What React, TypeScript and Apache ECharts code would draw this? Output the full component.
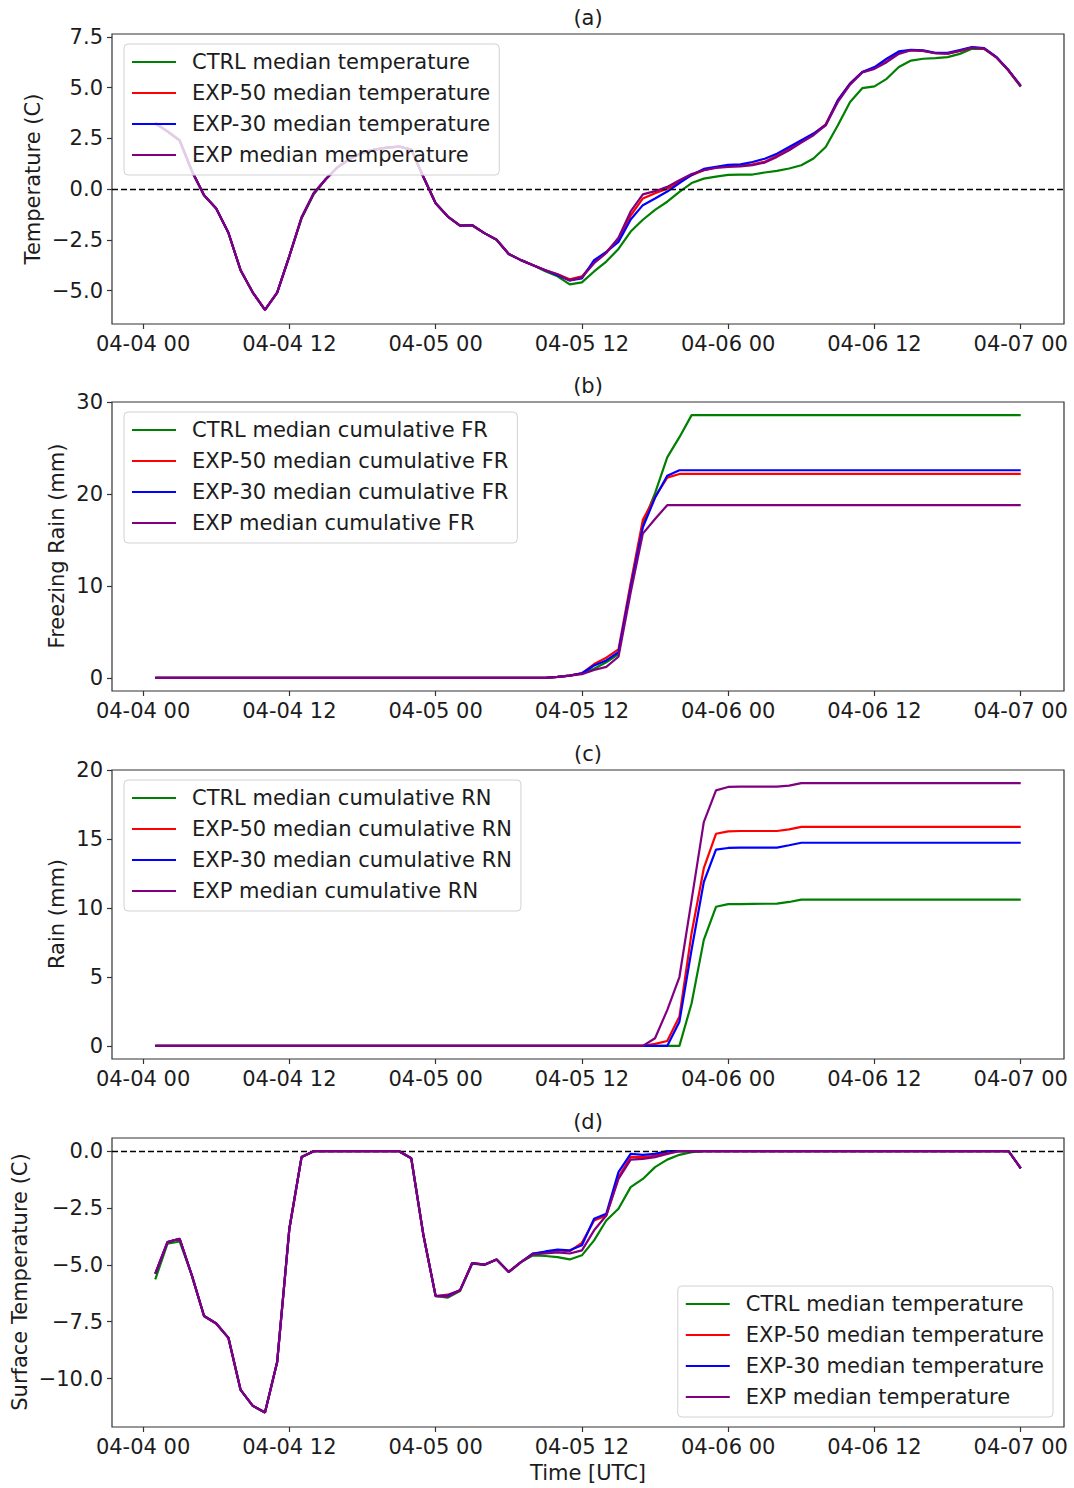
import React, { useEffect, useRef } from 'react';
import * as echarts from 'echarts';

// Hourly forecast steps (hours after 04-04 00 UTC)
const hours = Array.from({ length: 72 }, (_, i) => i + 1);

const xTickHours = [0, 12, 24, 36, 48, 60, 72];
const xTickLabels = ['04-04 00', '04-04 12', '04-05 00', '04-05 12', '04-06 00', '04-06 12', '04-07 00'];

// (a) 2 m temperature (C)
const tCtrl = [
  3.25, 2.85, 2.4, 0.9, -0.3, -0.95, -2.15, -4.0, -5.1, -5.95,
  -5.1, -3.3, -1.45, -0.25, 0.5, 1.1, 1.5, 1.8, 1.95, 2.05,
  2.1, 1.95, 0.6, -0.7, -1.35, -1.8, -1.78, -2.17, -2.5, -3.2,
  -3.5, -3.75, -4.05, -4.3, -4.7, -4.6, -4.06, -3.57, -2.95, -2.09,
  -1.51, -1.02, -0.62, -0.13, 0.3, 0.52, 0.62, 0.7, 0.72, 0.72,
  0.82, 0.9, 1.02, 1.18, 1.51, 2.08, 3.15, 4.3, 4.98, 5.07,
  5.44, 6.02, 6.34, 6.43, 6.46, 6.51, 6.67, 6.92, 6.92, 6.5,
  5.85, 5.05,
];
const tExp50 = [
  3.25, 2.85, 2.4, 0.9, -0.3, -0.95, -2.15, -4.0, -5.1, -5.95,
  -5.1, -3.3, -1.4, -0.2, 0.5, 1.1, 1.5, 1.8, 1.95, 2.05,
  2.1, 1.95, 0.6, -0.7, -1.35, -1.8, -1.78, -2.17, -2.5, -3.2,
  -3.5, -3.75, -4.0, -4.2, -4.45, -4.3, -3.6, -3.1, -2.45, -1.3,
  -0.46, -0.2, 0.02, 0.35, 0.68, 0.93, 1.08, 1.15, 1.17, 1.22,
  1.35, 1.65, 1.98, 2.35, 2.72, 3.2, 4.4, 5.22, 5.77, 5.97,
  6.3, 6.72, 6.85, 6.82, 6.7, 6.68, 6.82, 6.98, 6.93, 6.5,
  5.85, 5.08,
];
const tExp30 = [
  3.25, 2.85, 2.4, 0.9, -0.3, -0.95, -2.15, -4.0, -5.1, -5.95,
  -5.1, -3.3, -1.4, -0.2, 0.5, 1.1, 1.5, 1.8, 1.95, 2.05,
  2.1, 1.95, 0.6, -0.7, -1.35, -1.8, -1.78, -2.17, -2.5, -3.2,
  -3.5, -3.75, -4.0, -4.25, -4.5, -4.4, -3.5, -3.1, -2.6, -1.5,
  -0.79, -0.46, -0.12, 0.3, 0.7, 1.0, 1.1, 1.2, 1.22, 1.34,
  1.5, 1.75, 2.08, 2.41, 2.74, 3.15, 4.38, 5.2, 5.77, 6.02,
  6.43, 6.79, 6.87, 6.84, 6.72, 6.72, 6.86, 7.0, 6.95, 6.52,
  5.87, 5.1,
];
const tExp = [
  3.25, 2.85, 2.4, 0.9, -0.3, -0.95, -2.15, -4.0, -5.1, -5.95,
  -5.1, -3.3, -1.4, -0.2, 0.5, 1.1, 1.5, 1.8, 1.95, 2.05,
  2.1, 1.95, 0.6, -0.7, -1.35, -1.8, -1.78, -2.17, -2.5, -3.2,
  -3.5, -3.75, -4.0, -4.2, -4.5, -4.35, -3.65, -3.15, -2.4, -1.1,
  -0.26, -0.1, 0.11, 0.44, 0.75, 0.93, 1.05, 1.1, 1.12, 1.18,
  1.31, 1.59, 1.92, 2.3, 2.66, 3.15, 4.3, 5.15, 5.75, 5.93,
  6.26, 6.67, 6.85, 6.82, 6.7, 6.68, 6.82, 6.98, 6.93, 6.5,
  5.85, 5.08,
];

// (b) cumulative freezing rain (mm)
const frCtrl = [
  0, 0, 0, 0, 0, 0, 0, 0, 0, 0,
  0, 0, 0, 0, 0, 0, 0, 0, 0, 0,
  0, 0, 0, 0, 0, 0, 0, 0, 0, 0,
  0, 0, 0, 0.1, 0.25, 0.5, 1.0, 1.7, 2.6, 10.0,
  16.8, 20.1, 24.0, 26.2, 28.6, 28.6, 28.6, 28.6, 28.6, 28.6,
  28.6, 28.6, 28.6, 28.6, 28.6, 28.6, 28.6, 28.6, 28.6, 28.6,
  28.6, 28.6, 28.6, 28.6, 28.6, 28.6, 28.6, 28.6, 28.6, 28.6,
  28.6, 28.6,
];
const frExp50 = [
  0, 0, 0, 0, 0, 0, 0, 0, 0, 0,
  0, 0, 0, 0, 0, 0, 0, 0, 0, 0,
  0, 0, 0, 0, 0, 0, 0, 0, 0, 0,
  0, 0, 0, 0.1, 0.25, 0.5, 1.5, 2.2, 3.1, 10.3,
  17.2, 19.7, 21.8, 22.2, 22.2, 22.2, 22.2, 22.2, 22.2, 22.2,
  22.2, 22.2, 22.2, 22.2, 22.2, 22.2, 22.2, 22.2, 22.2, 22.2,
  22.2, 22.2, 22.2, 22.2, 22.2, 22.2, 22.2, 22.2, 22.2, 22.2,
  22.2, 22.2,
];
const frExp30 = [
  0, 0, 0, 0, 0, 0, 0, 0, 0, 0,
  0, 0, 0, 0, 0, 0, 0, 0, 0, 0,
  0, 0, 0, 0, 0, 0, 0, 0, 0, 0,
  0, 0, 0, 0.1, 0.25, 0.5, 1.35, 1.9, 2.8, 9.8,
  16.4, 19.6, 22.0, 22.6, 22.6, 22.6, 22.6, 22.6, 22.6, 22.6,
  22.6, 22.6, 22.6, 22.6, 22.6, 22.6, 22.6, 22.6, 22.6, 22.6,
  22.6, 22.6, 22.6, 22.6, 22.6, 22.6, 22.6, 22.6, 22.6, 22.6,
  22.6, 22.6,
];
const frExp = [
  0, 0, 0, 0, 0, 0, 0, 0, 0, 0,
  0, 0, 0, 0, 0, 0, 0, 0, 0, 0,
  0, 0, 0, 0, 0, 0, 0, 0, 0, 0,
  0, 0, 0, 0.1, 0.25, 0.4, 0.85, 1.2, 2.3, 9.3,
  15.7, 17.3, 18.8, 18.8, 18.8, 18.8, 18.8, 18.8, 18.8, 18.8,
  18.8, 18.8, 18.8, 18.8, 18.8, 18.8, 18.8, 18.8, 18.8, 18.8,
  18.8, 18.8, 18.8, 18.8, 18.8, 18.8, 18.8, 18.8, 18.8, 18.8,
  18.8, 18.8,
];

// (c) cumulative rain (mm)
const rnCtrl = [
  0, 0, 0, 0, 0, 0, 0, 0, 0, 0,
  0, 0, 0, 0, 0, 0, 0, 0, 0, 0,
  0, 0, 0, 0, 0, 0, 0, 0, 0, 0,
  0, 0, 0, 0, 0, 0, 0, 0, 0, 0,
  0, 0, 0, 0, 3.1, 7.7, 10.1, 10.29, 10.3, 10.31,
  10.32, 10.33, 10.45, 10.62, 10.62, 10.62, 10.62, 10.62, 10.62, 10.62,
  10.62, 10.62, 10.62, 10.62, 10.62, 10.62, 10.62, 10.62, 10.62, 10.62,
  10.62, 10.62,
];
const rnExp50 = [
  0, 0, 0, 0, 0, 0, 0, 0, 0, 0,
  0, 0, 0, 0, 0, 0, 0, 0, 0, 0,
  0, 0, 0, 0, 0, 0, 0, 0, 0, 0,
  0, 0, 0, 0, 0, 0, 0, 0, 0, 0,
  0, 0.15, 0.36, 2.13, 8.2, 12.9, 15.4, 15.58, 15.6, 15.6,
  15.6, 15.6, 15.72, 15.9, 15.9, 15.9, 15.9, 15.9, 15.9, 15.9,
  15.9, 15.9, 15.9, 15.9, 15.9, 15.9, 15.9, 15.9, 15.9, 15.9,
  15.9, 15.9,
];
const rnExp30 = [
  0, 0, 0, 0, 0, 0, 0, 0, 0, 0,
  0, 0, 0, 0, 0, 0, 0, 0, 0, 0,
  0, 0, 0, 0, 0, 0, 0, 0, 0, 0,
  0, 0, 0, 0, 0, 0, 0, 0, 0, 0,
  0, 0, 0, 1.76, 7.0, 11.9, 14.25, 14.37, 14.4, 14.4,
  14.4, 14.4, 14.57, 14.75, 14.75, 14.75, 14.75, 14.75, 14.75, 14.75,
  14.75, 14.75, 14.75, 14.75, 14.75, 14.75, 14.75, 14.75, 14.75, 14.75,
  14.75, 14.75,
];
const rnExp = [
  0, 0, 0, 0, 0, 0, 0, 0, 0, 0,
  0, 0, 0, 0, 0, 0, 0, 0, 0, 0,
  0, 0, 0, 0, 0, 0, 0, 0, 0, 0,
  0, 0, 0, 0, 0, 0, 0, 0, 0, 0,
  0, 0.56, 2.6, 5.0, 10.6, 16.25, 18.55, 18.8, 18.82, 18.82,
  18.82, 18.82, 18.9, 19.08, 19.08, 19.08, 19.08, 19.08, 19.08, 19.08,
  19.08, 19.08, 19.08, 19.08, 19.08, 19.08, 19.08, 19.08, 19.08, 19.08,
  19.08, 19.08,
];

// (d) surface temperature (C)
const sfcCtrl = [
  -5.64, -4.07, -3.97, -5.46, -7.25, -7.58, -8.21, -10.5, -11.2, -11.49,
  -9.27, -3.41, -0.26, 0, 0, 0, 0, 0, 0, 0,
  0, -0.31, -3.7, -6.37, -6.44, -6.15, -4.95, -5.0, -4.76, -5.31,
  -4.88, -4.58, -4.61, -4.66, -4.76, -4.58, -3.92, -3.05, -2.53, -1.58,
  -1.22, -0.7, -0.37, -0.16, -0.04, 0, 0, 0, 0, 0,
  0, 0, 0, 0, 0, 0, 0, 0, 0, 0,
  0, 0, 0, 0, 0, 0, 0, 0, 0, 0,
  0, -0.75,
];
const sfcExp50 = [
  -5.39, -4.0, -3.85, -5.46, -7.25, -7.58, -8.21, -10.5, -11.2, -11.49,
  -9.27, -3.41, -0.26, 0, 0, 0, 0, 0, 0, 0,
  0, -0.31, -3.7, -6.37, -6.31, -6.12, -4.92, -4.99, -4.76, -5.31,
  -4.88, -4.5, -4.45, -4.36, -4.4, -4.03, -3.05, -2.83, -1.14, -0.26,
  -0.26, -0.2, -0.06, 0, 0, 0, 0, 0, 0, 0,
  0, 0, 0, 0, 0, 0, 0, 0, 0, 0,
  0, 0, 0, 0, 0, 0, 0, 0, 0, 0,
  0, -0.75,
];
const sfcExp30 = [
  -5.39, -4.0, -3.85, -5.46, -7.25, -7.58, -8.21, -10.5, -11.2, -11.49,
  -9.27, -3.41, -0.26, 0, 0, 0, 0, 0, 0, 0,
  0, -0.31, -3.7, -6.37, -6.35, -6.12, -4.92, -4.99, -4.76, -5.31,
  -4.88, -4.5, -4.41, -4.33, -4.36, -4.14, -2.97, -2.75, -0.92, -0.12,
  -0.16, -0.12, 0, 0, 0, 0, 0, 0, 0, 0,
  0, 0, 0, 0, 0, 0, 0, 0, 0, 0,
  0, 0, 0, 0, 0, 0, 0, 0, 0, 0,
  0, -0.75,
];
const sfcExp = [
  -5.39, -4.0, -3.85, -5.46, -7.25, -7.58, -8.21, -10.5, -11.2, -11.49,
  -9.27, -3.41, -0.26, 0, 0, 0, 0, 0, 0, 0,
  0, -0.31, -3.7, -6.37, -6.4, -6.12, -4.92, -4.99, -4.76, -5.31,
  -4.88, -4.54, -4.5, -4.45, -4.5, -4.36, -3.48, -2.83, -1.22, -0.37,
  -0.34, -0.26, -0.12, 0, 0, 0, 0, 0, 0, 0,
  0, 0, 0, 0, 0, 0, 0, 0, 0, 0,
  0, 0, 0, 0, 0, 0, 0, 0, 0, 0,
  0, -0.75,
];

// y-axis tick positions per panel
const yTicksA = [-5, -2.5, 0, 2.5, 5, 7.5];
const yTicksB = [0, 10, 20, 30];
const yTicksC = [0, 5, 10, 15, 20];
const yTicksD = [-10, -7.5, -5, -2.5, 0];

const namesA = ['CTRL median temperature', 'EXP-50 median temperature', 'EXP-30 median temperature', 'EXP median memperature'];
const namesB = ['CTRL median cumulative FR', 'EXP-50 median cumulative FR', 'EXP-30 median cumulative FR', 'EXP median cumulative FR'];
const namesC = ['CTRL median cumulative RN', 'EXP-50 median cumulative RN', 'EXP-30 median cumulative RN', 'EXP median cumulative RN'];
const namesD = ['CTRL median temperature', 'EXP-50 median temperature', 'EXP-30 median temperature', 'EXP median temperature'];

const colors = ['#008000', '#ff0000', '#0000ff', '#800080'];

const FONT = '"DejaVu Sans", "Liberation Sans", sans-serif';
const FS = 21;
const TEXT = '#1c1c1c';
const AXIS = '#333333';

const X_MIN = -2.55;
const X_MAX = 75.55;

const panels = [
  { top: 34, height: 290, min: -6.65, max: 7.65, ticks: yTicksA, dec: 1, names: namesA, data: [tCtrl, tExp50, tExp30, tExp], zero: true },
  { top: 402, height: 289, min: -1.43, max: 30.03, ticks: yTicksB, dec: 0, names: namesB, data: [frCtrl, frExp50, frExp30, frExp], zero: false },
  { top: 770, height: 289, min: -0.95, max: 20.03, ticks: yTicksC, dec: 0, names: namesC, data: [rnCtrl, rnExp50, rnExp30, rnExp], zero: false },
  { top: 1138, height: 289, min: -12.13, max: 0.58, ticks: yTicksD, dec: 1, names: namesD, data: [sfcCtrl, sfcExp50, sfcExp30, sfcExp], zero: true },
];

const fmtNum = (v: number, dec: number) => {
  const s = Math.abs(v).toFixed(dec);
  return v < 0 ? '\u2212' + s : s;
};

const xLabel = (v: number) => {
  const i = xTickHours.indexOf(Math.round(v));
  return i >= 0 ? xTickLabels[i] : '';
};

function buildOption() {
  const grid: any[] = [];
  const xAxis: any[] = [];
  const yAxis: any[] = [];
  const series: any[] = [];

  panels.forEach((p, pi) => {
    grid.push({
      left: 112, right: 10, top: p.top, height: p.height,
      show: true, borderColor: AXIS, borderWidth: 1.2, backgroundColor: 'transparent',
    });
    xAxis.push({
      type: 'value', gridIndex: pi, min: X_MIN, max: X_MAX, position: 'bottom',
      axisLine: { show: false, onZero: false },
      splitLine: { show: false },
      axisTick: { show: true, customValues: xTickHours, length: 5, lineStyle: { color: AXIS, width: 1.2 } },
      axisLabel: {
        show: true, customValues: xTickHours, formatter: xLabel, margin: 9,
        fontSize: FS, fontFamily: FONT, color: TEXT,
      },
    });
    yAxis.push({
      type: 'value', gridIndex: pi, min: p.min, max: p.max, position: 'left',
      axisLine: { show: false, onZero: false },
      splitLine: { show: false },
      axisTick: { show: true, customValues: p.ticks, length: 5, lineStyle: { color: AXIS, width: 1.2 } },
      axisLabel: {
        show: true, customValues: p.ticks, formatter: (v: number) => fmtNum(v, p.dec), margin: 9,
        fontSize: FS, fontFamily: FONT, color: TEXT,
      },
    });
    p.data.forEach((arr, si) => {
      const s: any = {
        type: 'line', name: p.names[si], xAxisIndex: pi, yAxisIndex: pi,
        data: hours.map((h, i) => [h, arr[i]]),
        showSymbol: false, symbol: 'none', smooth: false,
        lineStyle: { color: colors[si], width: 2.2 },
        itemStyle: { color: colors[si] },
        z: 2 + si,
      };
      if (p.zero && si === p.data.length - 1) {
        s.markLine = {
          silent: true, symbol: 'none', label: { show: false },
          lineStyle: { color: '#000', width: 1.3, type: [6, 3] },
          data: [{ yAxis: 0 }],
        };
      }
      series.push(s);
    });
  });

  const legendBase = {
    orient: 'vertical', icon: 'rect', itemWidth: 44, itemHeight: 2, itemGap: 9,
    padding: [7, 9, 9, 8], backgroundColor: 'rgba(255,255,255,0.8)',
    borderColor: '#d2d2d2', borderWidth: 1, borderRadius: 4, selectedMode: false, z: 20,
    textStyle: { fontSize: FS, fontFamily: FONT, color: TEXT, lineHeight: 22, padding: [0, 0, 0, 11] },
  };
  const legend = [
    { ...legendBase, left: 124, top: 44, data: namesA },
    { ...legendBase, left: 124, top: 412, data: namesB },
    { ...legendBase, left: 124, top: 780, data: namesC },
    { ...legendBase, right: 21, top: 1286, data: namesD },
  ];

  const txt = (text: string, x: number, y: number, rot = 0) => ({
    type: 'text', x, y, rotation: rot,
    style: {
      text, font: `${FS}px ${FONT}`, fill: TEXT,
      textAlign: 'center', textVerticalAlign: 'middle', align: 'center', verticalAlign: 'middle',
    },
  });

  const graphic = [
    txt('(a)', 588, 18),
    txt('(b)', 588, 386),
    txt('(c)', 588, 754),
    txt('(d)', 588, 1122),
    txt('Temperature (C)', 33, 179, Math.PI / 2),
    txt('Freezing Rain (mm)', 57, 546, Math.PI / 2),
    txt('Rain (mm)', 57, 914, Math.PI / 2),
    txt('Surface Temperature (C)', 20, 1282, Math.PI / 2),
    txt('Time [UTC]', 588, 1473),
  ];

  return {
    animation: false,
    backgroundColor: '#ffffff',
    grid, xAxis, yAxis, series, legend, graphic,
  };
}

export default function App() {
  const ref = useRef<HTMLDivElement>(null);
  useEffect(() => {
    if (!ref.current) return;
    const chart = echarts.init(ref.current, undefined, { renderer: 'svg' });
    chart.setOption(buildOption() as any);
    return () => chart.dispose();
  }, []);
  return (
    <div
      ref={ref}
      style={{ position: 'fixed', left: 0, top: 0, width: 1074, height: 1488, background: '#fff' }}
    />
  );
}
